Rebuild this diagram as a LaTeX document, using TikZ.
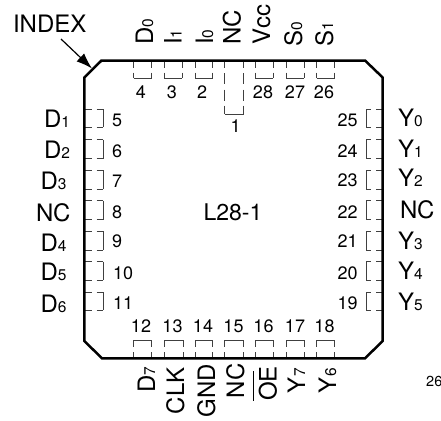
\documentclass[tikz,border=0pt]{standalone}
\usepackage{fontspec}
\setmainfont{TeX Gyre Heros}
\usetikzlibrary{arrows.meta}
\newcommand{\hugt}{\fontsize{24}{24}\selectfont}
\newcommand{\midt}{\fontsize{15.5}{16}\selectfont}
\newcommand{\numt}{\fontsize{18}{18}\selectfont}
\newcommand{\pl}[2]{{\hugt #1}{\midt #2}}
\tikzset{
  x=1pt,y=-1pt,
  body/.style={line width=2.5pt,line join=miter,black},
  padline/.style={line width=0.9pt,black!75},
  stub/.style={padline,dash pattern=on 6.5pt off 5pt on 8pt},
  longstub/.style={padline,dash pattern=on 6.5pt off 5.5pt on 11pt off 5.5pt on 11pt off 5pt on 10pt},
  lab/.style={inner sep=0pt,outer sep=0pt,anchor=base west,font=\hugt},
  rlab/.style={lab,rotate=90},
  num/.style={inner sep=0pt,outer sep=0pt,font=\numt,anchor=base},
  numl/.style={num,anchor=base west},
  numr/.style={num,anchor=base east},
}
\newcommand{\toppad}[2]{%
  \draw[stub] (#1,61) -- (#1,78);
  \draw[stub] (#2,61) -- (#2,78);
  \draw[padline] (#1,78) -- (#2,78);}
\newcommand{\botpad}[2]{%
  \draw[stub] (#1,358) -- (#1,340);
  \draw[stub] (#2,358) -- (#2,340);
  \draw[padline] (#1,340) -- (#2,340);}
\newcommand{\leftpad}[2]{%
  \draw[stub] (85,#1) -- (103,#1);
  \draw[stub] (85,#2) -- (103,#2);
  \draw[padline] (103,#1) -- (103,#2);}
\newcommand{\rightpad}[2]{%
  \draw[stub] (382,#1) -- (366,#1);
  \draw[stub] (382,#2) -- (366,#2);
  \draw[padline] (366,#1) -- (366,#2);}
\begin{document}
\begin{tikzpicture}
\useasboundingbox (0,0) rectangle (441,420);
\foreach \a/\b in {133.5/151.5,164/182,195/212.5,255/273,286/304,316.5/334.5}{\toppad{\a}{\b}}
\foreach \a/\b in {133.5/151.5,164/183,195/212.5,224.5/243.5,255/273,286/304,316.5/334.5}{\botpad{\a}{\b}}
\foreach \a/\b in {109/127,139.5/158.5,170/189,200.5/219.5,231/250,261.5/280,292/310}{\leftpad{\a}{\b}\rightpad{\a}{\b}}
\draw[longstub] (224.5,61) -- (224.5,114);
\draw[longstub] (243.5,61) -- (243.5,114);
\draw[padline] (224.5,114) -- (243.5,114);
\draw[body] (101.5,60.5) -- (365,60.5) -- (382.7,77.5) -- (382.7,341) -- (365,358.3) -- (102,358.3) -- (84.3,341) -- (84.3,77.5) -- cycle;
\node[lab] (index) at (13,32.7) {INDEX};
\coordinate (idxs) at (61,39);
\coordinate (idxt) at (92,68.5);
\draw[line width=1.2pt,-{Latex[length=16pt,width=11pt]}] (idxs) -- (idxt);
\node[lab] (lD1) at (44,127) {\pl{D}{1}};
\node[lab] (lD2) at (44,158.5) {\pl{D}{2}};
\node[lab] (lD3) at (40.5,189.5) {\pl{D}{3}};
\node[lab] (lNCl) at (36,221) {NC};
\node[lab] (lD4) at (40.5,251.5) {\pl{D}{4}};
\node[lab] (lD5) at (40.5,280.5) {\pl{D}{5}};
\node[lab] (lD6) at (40.5,312) {\pl{D}{6}};
\node[lab] (lY0) at (398,126) {\pl{Y}{0}};
\node[lab] (lY1) at (398,157) {\pl{Y}{1}};
\node[lab] (lY2) at (398,186) {\pl{Y}{2}};
\node[lab] (lNCr) at (400,218) {NC};
\node[lab] (lY3) at (398,249) {\pl{Y}{3}};
\node[lab] (lY4) at (398,279) {\pl{Y}{4}};
\node[lab] (lY5) at (398,310) {\pl{Y}{5}};
\node[rlab] (tD0) at (153,44.7) {\pl{D}{0}};
\node[rlab] (tI1) at (181.7,44.7) {\pl{I}{1}};
\node[rlab] (tI0) at (213,44.7) {\pl{I}{0}};
\node[rlab] (tNC) at (240.7,45) {NC};
\node[rlab] (tV) at (270,45) {Vcc};
\node[rlab] (tS0) at (302,47) {\pl{S}{0}};
\node[rlab] (tS1) at (333,47) {\pl{S}{1}};
\node[rlab] (bD7) at (155,392.7) {\pl{D}{7}};
\node[rlab] (bCLK) at (184,414) {CLK};
\node[rlab] (bGND) at (215,417) {GND};
\node[rlab] (bNC) at (244,398) {NC};
\node[rlab] (bOE) at (276.7,400.7) {\rlap{\rule[23.2pt]{30pt}{1pt}}OE};
\node[rlab] (bY7) at (305,393) {\pl{Y}{7}};
\node[rlab] (bY6) at (336,393) {\pl{Y}{6}};
\foreach \n/\y in {5/126.7,6/157,7/187,8/218,9/247}{\node[numl] (n\n) at (112,\y) {\n};}
\foreach \n/\y in {10/279,11/309}{\node[numl] (n\n) at (113,\y) {\n};}
\foreach \n/\y in {25/126,24/157,23/186.7,22/218,21/247,20/279,19/309}{\node[numr] (n\n) at (357.7,\y) {\n};}
\foreach \n/\x in {4/141,3/172,2/202,28/263,27/295,26/324}{\node[num] (n\n) at (\x,98) {\n};}
\node[num] (n1) at (235.5,132) {1};
\foreach \n/\x in {12/141,13/172.5,14/203,15/233.5,16/263.5,17/295,18/324.5}{\node[num] (n\n) at (\x,332) {\n};}
\node[num,anchor=base,font=\fontsize{23}{23}\selectfont] (title) at (233,220) {L28-1};
\node[inner sep=0pt,anchor=base west,font=\fontsize{14.5}{15}\selectfont] (fig) at (426,386.5) {26};
\end{tikzpicture}
\end{document}
